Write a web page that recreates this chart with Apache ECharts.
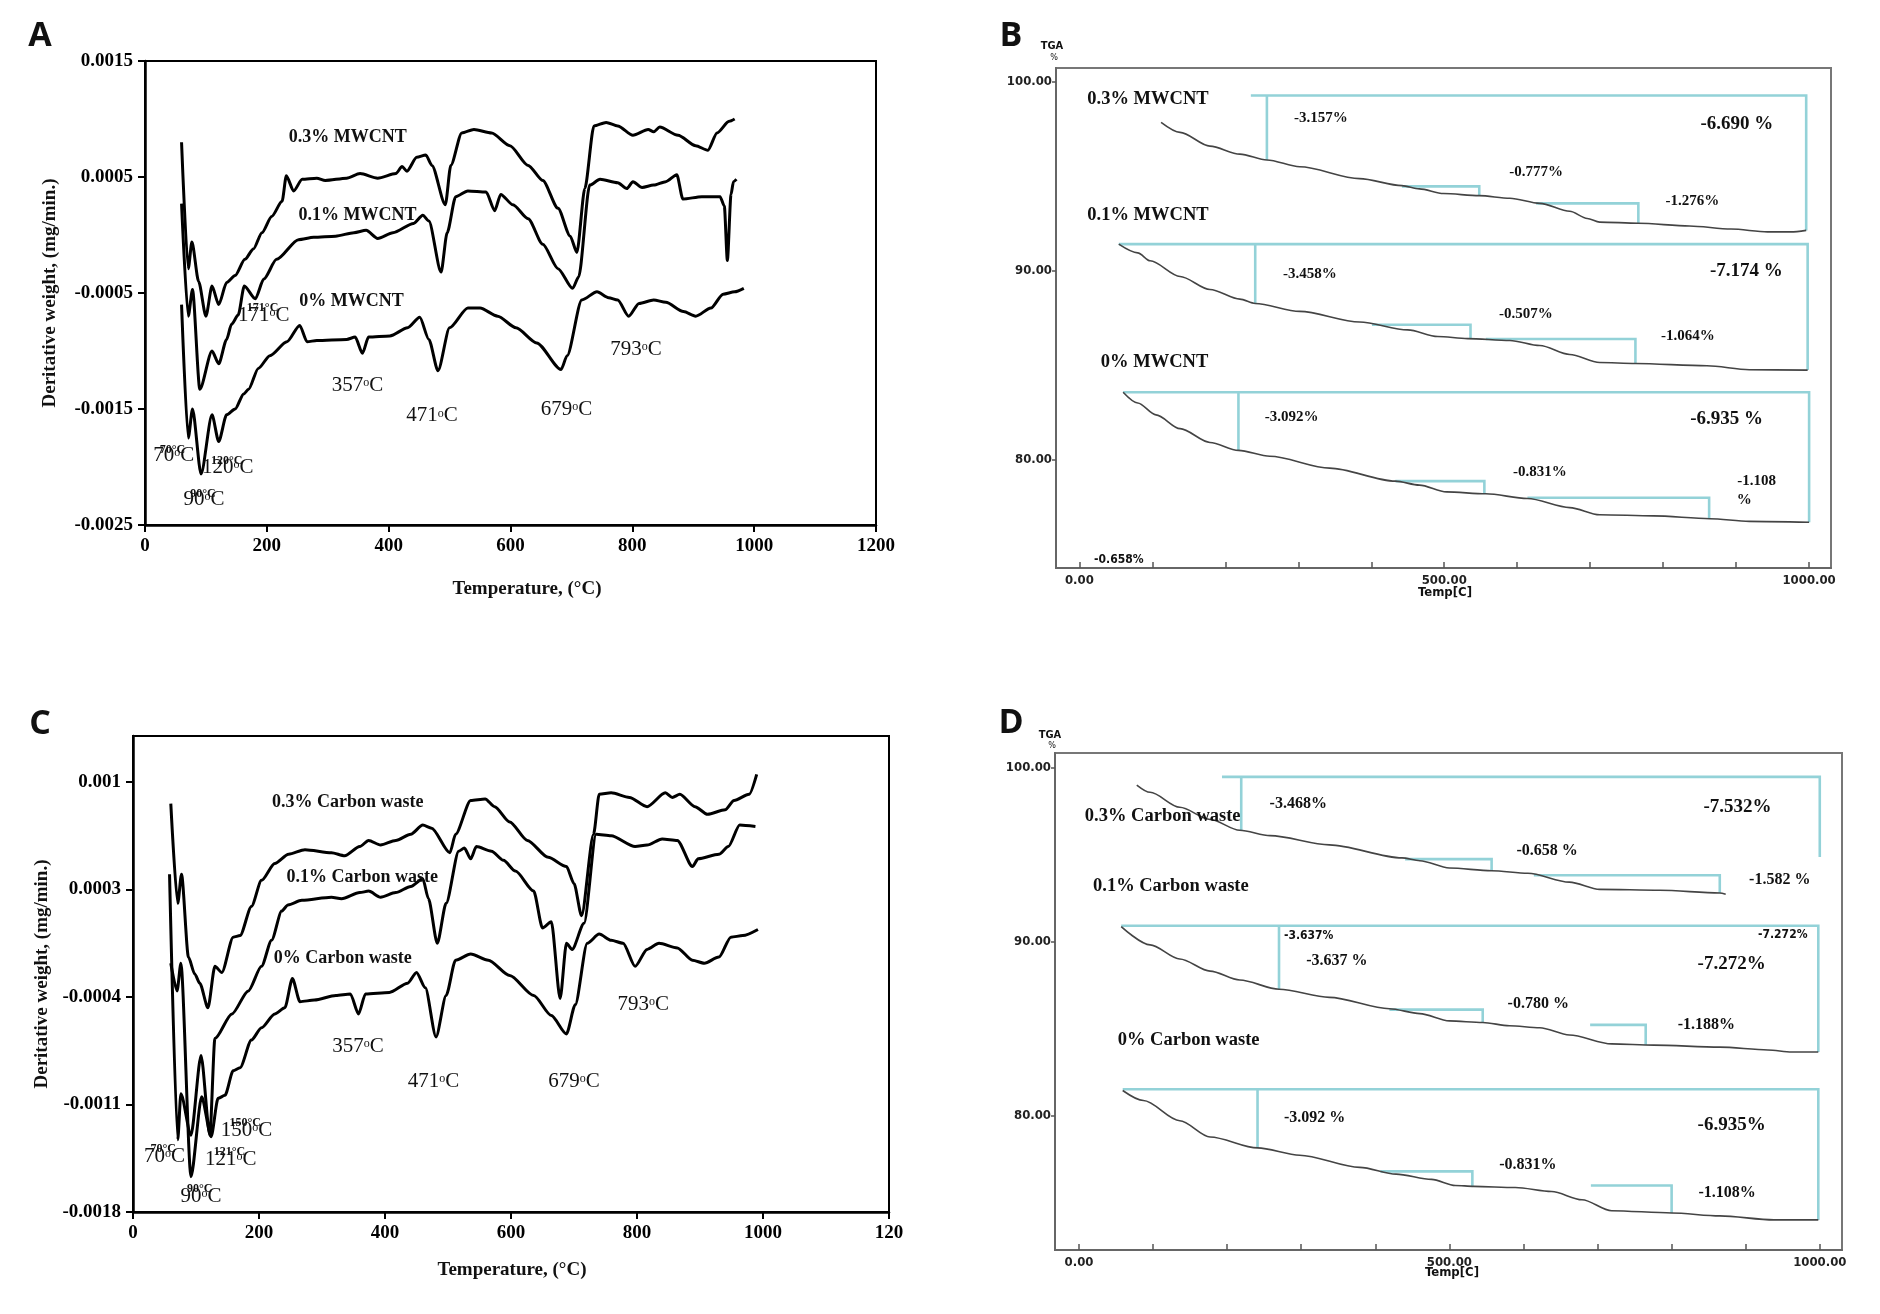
<!DOCTYPE html>
<html><head><meta charset="utf-8">
<script src="https://cdn.jsdelivr.net/npm/echarts@6/dist/echarts.min.js"></script>
<style>html,body{margin:0;padding:0;background:#fff}#c{width:1880px;height:1314px}</style>
</head><body><div id="c"></div>
<script>
// ---------- Panel A: DTG, MWCNT (temperature °C, mg/min) ----------
const A03 = [[60,0.0008],[71,-0.00029],[77,-0.00006],[88,-0.0004],[100,-0.0007],[110,-0.00044],[121,-0.0006],[134,-0.00041],[148,-0.00035],[164,-0.00021],[178,-0.00012],[192,0.00002],[208,0.00016],[225,0.00029],[232,0.00051],[244,0.00038],[258,0.00048],[282,0.00049],[296,0.00047],[331,0.00049],[353,0.00053],[382,0.00049],[412,0.00053],[422,0.00059],[430,0.00055],[446,0.00067],[461,0.00069],[471,0.0006],[493,0.00026],[502,0.0006],[520,0.00088],[540,0.00091],[569,0.00088],[599,0.00077],[629,0.0006],[653,0.00047],[678,0.00023],[698,-0.00001],[709,-0.00015],[722,0.0004],[737,0.00094],[757,0.00097],[776,0.00094],[801,0.00086],[826,0.00091],[835,0.00089],[845,0.00093],[875,0.00086],[904,0.00077],[924,0.00073],[939,0.00088],[959,0.00098],[968,0.001]];
const A01 = [[60,0.00027],[71,-0.0007],[78,-0.00047],[90,-0.00133],[110,-0.001],[121,-0.00111],[134,-0.0009],[142,-0.00077],[153,-0.00069],[163,-0.00044],[181,-0.00055],[195,-0.00038],[216,-0.00021],[252,-0.00004],[277,-0.00002],[313,-0.00001],[343,0.00002],[363,0.00004],[382,-0.00003],[407,0.00002],[441,0.0001],[456,0.00017],[466,0.00012],[486,-0.00032],[496,0.00002],[510,0.00033],[530,0.00038],[560,0.00037],[574,0.00021],[584,0.00035],[604,0.00026],[629,0.00014],[653,-0.00008],[678,-0.00029],[702,-0.00046],[712,-0.00036],[730,0.00043],[747,0.00048],[776,0.00045],[791,0.0004],[801,0.00046],[816,0.00041],[835,0.00043],[855,0.00046],[873,0.00052],[883,0.00031],[914,0.00033],[944,0.00033],[951,0.00025],[956,-0.00022],[962,0.00035],[966,0.00046],[971,0.00048]];
const A00 = [[60,-0.0006],[71,-0.00175],[78,-0.0015],[92,-0.00206],[110,-0.00155],[121,-0.00178],[134,-0.00155],[148,-0.0015],[162,-0.00137],[170,-0.00133],[186,-0.00115],[205,-0.00104],[233,-0.00092],[254,-0.00078],[266,-0.00092],[282,-0.00091],[331,-0.0009],[345,-0.00088],[357,-0.00102],[367,-0.00088],[402,-0.00087],[431,-0.0008],[451,-0.00071],[466,-0.0009],[481,-0.00117],[500,-0.0008],[530,-0.00063],[550,-0.00063],[579,-0.0007],[609,-0.0008],[643,-0.00093],[683,-0.00116],[693,-0.00104],[717,-0.00056],[742,-0.00049],[761,-0.00054],[776,-0.00056],[794,-0.0007],[811,-0.00059],[835,-0.00056],[855,-0.00058],[884,-0.00066],[904,-0.0007],[929,-0.00063],[949,-0.00051],[968,-0.00049],[983,-0.00046]];
const labelsA = [
  [333,0.00084,'0.3% MWCNT','bold'],[349,0.00017,'0.1% MWCNT','bold'],[339,-0.00057,'0% MWCNT','bold'],
  [193,-0.00063,'171°C','small'],[195,-0.00069,'171°C','deg'],
  [349,-0.0013,'357°C','deg'],[471,-0.00156,'471°C','deg'],[692,-0.0015,'679°C','deg'],[806,-0.00099,'793°C','deg'],
  [45,-0.00185,'70°C','small'],[47,-0.0019,'70°C','deg'],
  [134,-0.00195,'120°C','small'],[136,-0.002,'120°C','deg'],
  [95,-0.00223,'90°C','small'],[97,-0.00228,'90°C','deg']
];
const yTicksA = [-0.0025,-0.0015,-0.0005,0.0005,0.0015];

// ---------- Panel C: DTG, carbon waste ----------
const C03 = [[60,0.00086],[71,0.00021],[77,0.0004],[88,-0.00014],[98,-0.00025],[106,-0.00031],[119,-0.00047],[130,-0.0002],[141,-0.00024],[159,-0.00001],[170,0],[188,0.00019],[204,0.00036],[225,0.00047],[247,0.00053],[273,0.00056],[315,0.00054],[336,0.00052],[360,0.00058],[374,0.00062],[393,0.00059],[417,0.00062],[441,0.00066],[460,0.00072],[474,0.0007],[503,0.00054],[512,0.00066],[536,0.00088],[559,0.00089],[574,0.00084],[598,0.00074],[626,0.00062],[659,0.00051],[688,0.00045],[700,0.00034],[712,0.00013],[731,0.00066],[740,0.00092],[759,0.00093],[788,0.0009],[816,0.00084],[845,0.00093],[856,0.0009],[868,0.00092],[892,0.00084],[912,0.00079],[940,0.00082],[954,0.00088],[978,0.00092],[990,0.00105]];
const C01 = [[58,0.0004],[71,-0.00133],[76,-0.00103],[92,-0.0013],[108,-0.00078],[122,-0.0013],[130,-0.00067],[157,-0.00051],[183,-0.00036],[204,-0.0002],[220,-0.00003],[236,0.00016],[246,0.0002],[268,0.00023],[315,0.00025],[331,0.00024],[360,0.00028],[374,0.00029],[393,0.00025],[417,0.00028],[441,0.00032],[460,0.00037],[469,0.00024],[483,-0.00005],[497,0.00021],[517,0.00055],[526,0.00057],[536,0.0005],[545,0.00058],[569,0.00055],[588,0.00049],[607,0.00042],[636,0.00029],[650,0.00005],[664,0.00009],[678,-0.00041],[688,-0.00005],[697,-0.00009],[716,0.00008],[735,0.00066],[759,0.00065],[797,0.00058],[816,0.00059],[840,0.00063],[864,0.00062],[888,0.00045],[897,0.0005],[930,0.00053],[945,0.00058],[963,0.00072],[988,0.00071]];
const C00 = [[60,-0.00018],[70,-0.00036],[76,-0.00018],[92,-0.00157],[109,-0.00105],[124,-0.00131],[135,-0.00106],[146,-0.00104],[159,-0.00088],[170,-0.00086],[188,-0.00068],[204,-0.0006],[225,-0.00051],[241,-0.00047],[253,-0.00028],[265,-0.00043],[288,-0.00042],[322,-0.00039],[345,-0.00038],[358,-0.00051],[369,-0.00038],[407,-0.00037],[436,-0.00031],[450,-0.00024],[464,-0.00034],[481,-0.00066],[497,-0.00039],[512,-0.00016],[536,-0.00012],[564,-0.00016],[598,-0.00026],[636,-0.00039],[664,-0.00052],[688,-0.00064],[702,-0.00045],[721,-0.00005],[740,0.00001],[759,-0.00003],[778,-0.00005],[797,-0.0002],[816,-0.00009],[835,-0.00005],[864,-0.00008],[888,-0.00016],[907,-0.00018],[930,-0.00014],[949,-0.00001],[968,0],[992,0.00004]];
const labelsC = [
  [341,0.00087,'0.3% Carbon waste','bold'],[364,0.00038,'0.1% Carbon waste','bold'],[333,-0.00015,'0% Carbon waste','bold'],
  [357,-0.00072,'357°C','deg'],[477,-0.00095,'471°C','deg'],[700,-0.00095,'679°C','deg'],[810,-0.00045,'793°C','deg'],
  [48,-0.00139,'70°C','small'],[50,-0.00144,'70°C','deg'],
  [153,-0.00141,'121°C','small'],[155,-0.00146,'121°C','deg'],
  [178,-0.00122,'150°C','small'],[180,-0.00127,'150°C','deg'],
  [106,-0.00165,'90°C','small'],[108,-0.0017,'90°C','deg']
];
const yTicksC = [-0.0018,-0.0011,-0.0004,0.0003,0.001];

// ---------- Panel B: TGA, MWCNT (temperature °C, mass %) ----------
const B03 = [[112,97.85],[138,97.32],[179,96.59],[220,96.17],[257,95.86],[302,95.5],[384,94.87],[442,94.5],[466,94.33],[499,94.08],[548,93.97],[590,93.83],[631,93.56],[672,93.14],[696,92.76],[713,92.57],[766,92.51],[836,92.36],[893,92.2],[943,92.05],[975,92.05],[996,92.13]];
const B01 = [[54,91.4],[80,90.94],[97,90.52],[138,89.69],[179,89.0],[220,88.49],[241,88.26],[302,87.84],[384,87.28],[450,86.86],[491,86.51],[532,86.4],[590,86.3],[631,86.03],[672,85.56],[713,85.13],[762,85.08],[860,84.96],[918,84.75],[998,84.73]];
const B00 = [[60,83.56],[80,82.99],[105,82.36],[138,81.63],[179,80.9],[218,80.48],[261,80.17],[343,79.54],[433,78.85],[466,78.64],[503,78.28],[557,78.18],[614,77.93],[672,77.45],[713,77.07],[787,77.01],[864,76.86],[918,76.72],[1000,76.67]];
const stepsB = [
  [[996,92.13],[996,99.27],[235,99.27]],[[257,99.27],[257,95.86]],[[442,94.46],[548,94.46],[548,93.97]],[[626,93.56],[766,93.56],[766,92.51]],
  [[998,84.73],[998,91.4],[54,91.4]],[[241,91.4],[241,88.26]],[[401,87.13],[536,87.13],[536,86.4]],[[557,86.38],[762,86.38],[762,85.08]],
  [[1000,76.67],[1000,83.56],[60,83.56]],[[218,83.56],[218,80.48]],[[433,78.85],[555,78.85],[555,78.18]],[[614,77.97],[863,77.97],[863,76.86]]
];
const labelsB = [
  [94,99.06,'0.3% MWCNT','big'],[331,98.05,'-3.157%','pct'],[901,97.74,'-6.690 %','pctL'],[626,95.19,'-0.777%','pct'],[840,93.7,'-1.276%','pct'],
  [94,92.93,'0.1% MWCNT','big'],[316,89.83,'-3.458%','pct'],[914,90.0,'-7.174 %','pctL'],[612,87.7,'-0.507%','pct'],[834,86.53,'-1.064%','pct'],
  [103,85.13,'0% MWCNT','big'],[291,82.26,'-3.092%','pct'],[887,82.15,'-6.935 %','pctL'],[631,79.33,'-0.831%','pct'],[928,78.85,'-1.108','pct'],[911,77.87,'%','pct'],
  [54,74.7,'-0.658%','sw']
];

// ---------- Panel D: TGA, carbon waste ----------
const D03 = [[78,99.0],[96,98.58],[136,97.72],[177,97.02],[217,96.4],[258,96.09],[338,95.56],[436,94.81],[460,94.65],[500,94.23],[557,94.07],[606,93.93],[662,93.42],[703,93.0],[784,92.95],[865,92.79],[873,92.72]];
const D01 = [[57,90.86],[96,89.81],[136,89.0],[177,88.3],[217,87.79],[270,87.26],[338,86.79],[419,86.14],[460,85.86],[500,85.44],[545,85.35],[581,85.16],[622,85.05],[662,84.63],[719,84.12],[776,84.05],[865,83.93],[930,83.77],[962,83.65],[998,83.65]];
const D00 = [[59,81.44],[87,80.86],[136,79.7],[177,78.77],[241,78.14],[298,77.72],[379,77.02],[428,76.63],[476,76.33],[508,75.98],[533,75.93],[589,75.86],[638,75.63],[679,75.16],[719,74.53],[800,74.4],[865,74.23],[938,74.0],[998,74.0]];
const stepsD = [
  [[1000,94.86],[1000,99.47],[193,99.47]],[[219,99.47],[219,96.4]],[[440,94.74],[557,94.74],[557,94.07]],[[614,93.81],[865,93.81],[865,92.79]],
  [[998,83.65],[998,90.91],[57,90.91]],[[270,90.91],[270,87.26]],[[419,86.09],[545,86.09],[545,85.35]],[[690,85.21],[765,85.21],[765,84.05]],
  [[998,74.0],[998,81.51],[59,81.51]],[[241,81.51],[241,78.14]],[[407,76.79],[531,76.79],[531,75.93]],[[691,75.98],[800,75.98],[800,74.4]]
];
const labelsD = [
  [113,97.2,'0.3% Carbon waste','big'],[296,97.9,'-3.468%','pctD'],[889,97.72,'-7.532%','pctL'],[632,95.21,'-0.658 %','pctD'],[946,93.53,'-1.582 %','pctD'],
  [124,93.19,'0.1% Carbon waste','big'],[310,90.33,'-3.637%','sw'],[348,88.88,'-3.637 %','pctD'],[950,90.4,'-7.272%','sw'],[881,88.7,'-7.272%','pctL'],[620,86.44,'-0.780 %','pctD'],[847,85.21,'-1.188%','pctD'],
  [148,84.35,'0% Carbon waste','big'],[318,79.88,'-3.092 %','pctD'],[881,79.47,'-6.935%','pctL'],[606,77.19,'-0.831%','pctD'],[875,75.55,'-1.108%','pctD']
];
const tgaTicks = [0,100,200,300,400,500,600,700,800,900,1000];
const tgaLabels = [0,500,1000];
const tgaY = [80,90,100];

// ---------- styling ----------
const SERIF = "'Liberation Serif','Times New Roman',serif";
const SANSN = "'Liberation Sans Narrow','DejaVu Sans Condensed','Liberation Sans',sans-serif";
const styles = {
  bold:{fontFamily:SERIF,fontWeight:'bold',fontSize:18},
  deg:{fontFamily:SERIF,fontWeight:'normal',fontSize:21},
  small:{fontFamily:SERIF,fontWeight:'bold',fontSize:12},
  big:{fontFamily:SERIF,fontWeight:'bold',fontSize:18.5},
  pct:{fontFamily:SERIF,fontWeight:'bold',fontSize:15},
  pctD:{fontFamily:SERIF,fontWeight:'bold',fontSize:16},
  pctL:{fontFamily:SERIF,fontWeight:'bold',fontSize:19},
  sw:{fontFamily:SANSN,fontWeight:'bold',fontSize:12}
};
function labelSeries(gi, labels){
  return {type:'custom', xAxisIndex:gi, yAxisIndex:gi, silent:true, z:20, clip:false,
    data: labels.map(l=>[l[0],l[1]]),
    renderItem:(params, api)=>{
      const l = labels[params.dataIndex];
      const st = styles[l[3]];
      const p = api.coord([api.value(0), api.value(1)]);
      let txt = l[2];
      const rich = {};
      if (l[3]==='deg'){ txt = txt.replace('°','{s|o}'); rich.s = {fontFamily:SERIF,fontSize:12,verticalAlign:'top',fill:'#111',padding:[2,0,0,0]}; }
      return {type:'text', x:p[0], y:p[1], style:{text:txt, fill:'#111', align:'center', verticalAlign:'middle',
        fontFamily:st.fontFamily, fontWeight:st.fontWeight, fontSize:st.fontSize, rich:rich}};
    }};
}
function dtgLine(gi, data){
  return {type:'line', xAxisIndex:gi, yAxisIndex:gi, data:data, showSymbol:false, smooth:0.25, smoothMonotone:'x',
    lineStyle:{color:'#000', width:3}, z:5, silent:true};
}
function tgaLine(gi, data){
  return {type:'line', xAxisIndex:gi, yAxisIndex:gi, data:data, showSymbol:false, smooth:0.3, smoothMonotone:'x',
    lineStyle:{color:'#444', width:1.6}, z:6, silent:true};
}
function steps(gi, segs){
  return {type:'lines', coordinateSystem:'cartesian2d', xAxisIndex:gi, yAxisIndex:gi, polyline:true, silent:true, z:3,
    data: segs.map(s=>({coords:s})), lineStyle:{color:'#93d2d8', width:2.6, opacity:1}};
}
function dtgX(gi, fmt){
  return {gridIndex:gi, type:'value', min:0, max:1200, interval:200,
    axisLine:{show:true,onZero:false,lineStyle:{color:'#000',width:2.5}},
    axisTick:{show:true,length:7,lineStyle:{color:'#000',width:2}},
    axisLabel:{color:'#000',fontFamily:SERIF,fontWeight:'bold',fontSize:19,margin:12,formatter:fmt},
    splitLine:{show:false}};
}
function dtgY(gi, mn, mx, ticks){
  return {gridIndex:gi, type:'value', min:mn, max:mx,
    axisLine:{show:true,onZero:false,lineStyle:{color:'#000',width:2.5}},
    axisTick:{show:true,length:7,customValues:ticks,lineStyle:{color:'#000',width:2}},
    axisLabel:{color:'#000',fontFamily:SERIF,fontWeight:'bold',fontSize:19,margin:12,customValues:ticks,formatter:v=>String(+v.toPrecision(6))},
    splitLine:{show:false}};
}
function tgaX(gi, mn, mx){
  return {gridIndex:gi, type:'value', min:mn, max:mx,
    axisLine:{show:true,onZero:false,lineStyle:{color:'#666',width:2}},
    axisTick:{show:true,inside:true,length:6,customValues:tgaTicks,lineStyle:{color:'#555',width:1.5}},
    axisLabel:{color:'#222',fontFamily:SANSN,fontWeight:'bold',fontSize:13,margin:6,customValues:tgaLabels,formatter:v=>Number(v).toFixed(2)},
    splitLine:{show:false}};
}
function tgaYax(gi, mn, mx){
  return {gridIndex:gi, type:'value', min:mn, max:mx,
    axisLine:{show:true,onZero:false,lineStyle:{color:'#666',width:2}},
    axisTick:{show:true,length:4,customValues:tgaY,lineStyle:{color:'#555',width:1.5}},
    axisLabel:{color:'#222',fontFamily:SANSN,fontWeight:'bold',fontSize:13,margin:4,customValues:tgaY,formatter:v=>Number(v).toFixed(2)},
    splitLine:{show:false}};
}
function txt(x,y,text,font,rot,extra){
  return Object.assign({type:'text', x:x, y:y, rotation:rot||0, silent:true,
    style:{text:text, font:font, fill:'#111', align:'center', verticalAlign:'middle'}}, extra||{});
}

const chart = echarts.init(document.getElementById('c'), null, {renderer:'canvas'});
chart.setOption({
  animation:false,
  backgroundColor:'#fff',
  grid:[
    {left:145, top:61, width:731, height:464, show:true, borderColor:'#000', borderWidth:2},
    {left:133, top:736, width:756, height:476, show:true, borderColor:'#000', borderWidth:2},
    {left:1056, top:68, width:775, height:500, show:true, borderColor:'#777', borderWidth:2},
    {left:1055, top:753, width:787, height:497, show:true, borderColor:'#777', borderWidth:2}
  ],
  xAxis:[
    dtgX(0, v=>String(v)),
    dtgX(1, v=>v===1200?'120':String(v)),
    tgaX(2, -32, 1030),
    tgaX(3, -32.4, 1030)
  ],
  yAxis:[
    dtgY(0, -0.0025, 0.0015, yTicksA),
    dtgY(1, -0.0018, 0.0013, yTicksC),
    tgaYax(2, 74.25, 100.73),
    tgaYax(3, 72.27, 100.84)
  ],
  series:[
    dtgLine(0, A03), dtgLine(0, A01), dtgLine(0, A00), labelSeries(0, labelsA),
    dtgLine(1, C03), dtgLine(1, C01), dtgLine(1, C00), labelSeries(1, labelsC),
    steps(2, stepsB), tgaLine(2, B03), tgaLine(2, B01), tgaLine(2, B00), labelSeries(2, labelsB),
    steps(3, stepsD), tgaLine(3, D03), tgaLine(3, D01), tgaLine(3, D00), labelSeries(3, labelsD)
  ],
  graphic:[
    txt(40,36,'A',"bold 34px 'Open Sans', sans-serif"),
    txt(40,724,'C',"bold 34px 'Open Sans', sans-serif"),
    txt(1011,36,'B',"bold 34px 'Open Sans', sans-serif"),
    txt(1011,723,'D',"bold 34px 'Open Sans', sans-serif"),
    txt(1052,46,'TGA',"bold 11px "+SANSN),
    txt(1054,58,'%',"9px "+SANSN),
    txt(1050,735,'TGA',"bold 11px "+SANSN),
    txt(1052,746,'%',"9px "+SANSN),
    txt(50,293,'Deritative weight, (mg/min.)',"bold 19px "+SERIF, Math.PI/2),
    txt(527,589,'Temperature, (°C)',"bold 19px "+SERIF),
    txt(42,974,'Deritative weight, (mg/min.)',"bold 19px "+SERIF, Math.PI/2),
    txt(512,1270,'Temperature, (°C)',"bold 19px "+SERIF),
    txt(1445,593,'Temp[C]',"bold 13px "+SANSN),
    txt(1452,1273,'Temp[C]',"bold 13px "+SANSN)
  ]
});
</script></body></html>
